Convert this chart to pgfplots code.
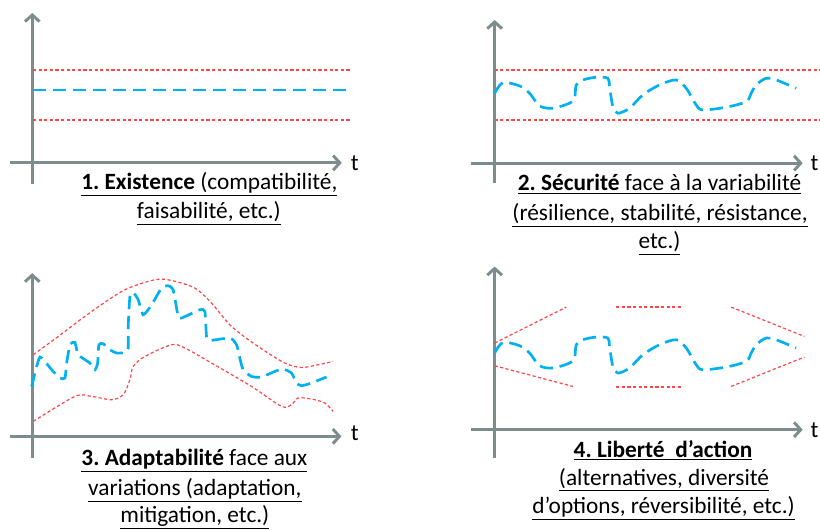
\documentclass[border=0pt]{standalone}
\usepackage{pgfplots}
\pgfplotsset{compat=1.18}
\usepackage{fontspec}
\setmainfont{Carlito}
\usetikzlibrary{arrows.meta}
\definecolor{axgray}{RGB}{125,140,140}
\definecolor{lblue}{RGB}{0,176,240}
\definecolor{lred}{RGB}{255,70,70}
\tikzset{
  axa/.style={axgray, line width=2.2pt, -{Straight Barb[length=5pt,width=11pt]}},
  bl/.style={lblue, line width=2pt, dash pattern=on 10pt off 5pt},
  rd/.style={lred, line width=0.9pt, dash pattern=on 2.4pt off 1.8pt},
  txt/.style={anchor=base, font=\fontsize{17.5}{21}\selectfont, inner sep=0pt},
}
\frenchspacing
\begin{document}
\frenchspacing
\begin{tikzpicture}
\begin{axis}[
  scale only axis, width=615pt, height=394.5pt,
  xmin=0, xmax=820, ymin=0, ymax=526, y dir=reverse,
  hide axis, clip=false,
]
\path (axis cs:0,0) rectangle (axis cs:820,526);
% ---------- Panel 1
\addplot[axa] coordinates {(32.3,184) (32.3,13)};
\addplot[axa] coordinates {(10,163) (342,163)};
\addplot[rd] coordinates {(33,70) (351,70)};
\addplot[rd] coordinates {(33,120) (351,120)};
\addplot[bl] coordinates {(33,90) (348,90)};
\node[txt] at (axis cs:355,171) {t};
\node[txt] at (axis cs:209.5,190) {\underline{\textbf{1. Existence} (compatibilité,}};
\node[txt] at (axis cs:209,219) {\underline{faisabilité, etc.)}};
% ---------- Panel 2
\addplot[axa] coordinates {(495,183.3) (495,20)};
\addplot[axa] coordinates {(471.7,163.3) (803.3,163.3)};
\addplot[rd] coordinates {(495,70) (820,70)};
\addplot[rd] coordinates {(495,120) (820,120)};
\addplot[bl, smooth, tension=0.5] coordinates {
(495,93.3) (503.3,82.7) (520,86) (530,93.3) (540,106) (553.3,108.3) (570,103.3)
(575,98.3) (576.7,85) (583.3,80) (596.7,77.3) (608.3,78.3) (610,86.7) (613.3,106.7)
(618.3,113.3) (630,108.3) (643.3,95) (660,85) (676.7,80) (686.7,88.3) (696.7,105)
(703.3,110) (726.7,107.3) (746.7,101.7) (751.7,93.3) (756.7,85) (766.7,78.3)
(776.7,80) (796.7,88.3)};
\node[txt] at (axis cs:815,171) {t};
\node[txt] at (axis cs:660,191) {\underline{\textbf{2. Sécurité} face à la variabilité}};
\node[txt] at (axis cs:660.5,221) {\underline{(résilience, stabilité, résistance,}};
\node[txt] at (axis cs:660,249) {\underline{etc.)}};
% ---------- Panel 3
\addplot[axa] coordinates {(32.3,458.3) (32.3,273.3)};
\addplot[axa] coordinates {(10,436.7) (341.7,436.7)};
\addplot[rd, smooth] coordinates {
(33.3,355) (58.3,336.7) (91.7,311.7) (125,290) (155,280) (171.7,280.7) (195,288.3)
(211.7,303.3) (231.7,326.7) (258.3,346.7) (285,363.3) (301.7,367.7) (318.3,365) (333.3,361.7)};
\addplot[rd, smooth] coordinates {
(33.3,421.7) (75,396.7) (91.7,396.7) (111.7,400) (123.3,395) (130,380) (133.3,366.7)
(145,356.7) (171.7,345) (185,348.3) (211.7,363.3) (251.7,386.7) (281.7,406.7)
(291.7,405) (298.3,398.3) (311.7,399.3) (325,403.3) (333.3,411.7)};
\addplot[bl, smooth, tension=0.35] coordinates {
(31.7,386.7) (36.7,366.7) (40,357.3) (45,361.7) (51.7,370) (60,378.3) (65,378.3)
(66.7,363.3) (70,345) (75,342.7) (78.3,355) (90,363.3) (95,370) (97.7,363.3)
(99,345) (103.3,344) (110,350) (116.7,353.3) (125,352.7) (128.3,348.3) (128.3,326.7)
(130,296.7) (133.3,292.7) (138.3,300) (143.3,315) (151.7,305) (161.7,288.3)
(168.3,286) (173.3,290) (178.3,316.7) (181.7,318.3) (200,310) (205,311.7)
(206.7,336.7) (210,340.7) (230,338.3) (236.7,345) (240,358.3) (243.3,370)
(251.7,376.7) (261.7,377.3) (281.7,369.3) (291.7,373.3) (296.7,383.3) (301.7,386)
(311.7,383.3) (326.7,377.3)};
\node[txt] at (axis cs:355,441) {t};
\node[txt] at (axis cs:194.5,466) {\underline{\textbf{3. Adaptabilité} face aux}};
\node[txt] at (axis cs:195,496) {\underline{variations (adaptation,}};
\node[txt] at (axis cs:195,523) {\underline{mitigation, etc.)}};
% ---------- Panel 4
\addplot[axa] coordinates {(495,458.3) (495,266.7)};
\addplot[axa] coordinates {(471.7,430) (803.3,430)};
\addplot[rd] coordinates {(495,343.3) (566.7,307.3)};
\addplot[rd] coordinates {(495,366) (573.3,386.7)};
\addplot[rd] coordinates {(616.7,307.3) (683.3,307.3)};
\addplot[rd] coordinates {(616.7,387.3) (683.3,387.3)};
\addplot[rd] coordinates {(731.7,307.3) (805,336.7)};
\addplot[rd] coordinates {(731.7,386.7) (805,357.3)};
\addplot[bl, smooth, tension=0.5] coordinates {
(495,353.3) (503.3,342.7) (520,346) (530,353.3) (540,366) (553.3,368.3) (570,363.3)
(575,358.3) (576.7,345) (583.3,340) (596.7,337.3) (608.3,338.3) (610,346.7) (613.3,366.7)
(618.3,373.3) (630,368.3) (643.3,355) (660,345) (676.7,340) (686.7,348.3) (696.7,365)
(703.3,370) (726.7,367.3) (746.7,361.7) (751.7,353.3) (756.7,345) (766.7,338.3)
(776.7,340) (796.7,348.3)};
\node[txt] at (axis cs:815,438) {t};
\node[txt] at (axis cs:663.5,458) {\underline{\textbf{4. Liberté~ d’action}}};
\node[txt] at (axis cs:664.5,486) {\underline{(alternatives, diversité}};
\node[txt] at (axis cs:664,514) {\underline{d’options, réversibilité, etc.)}};
\end{axis}
\end{tikzpicture}
\end{document}
